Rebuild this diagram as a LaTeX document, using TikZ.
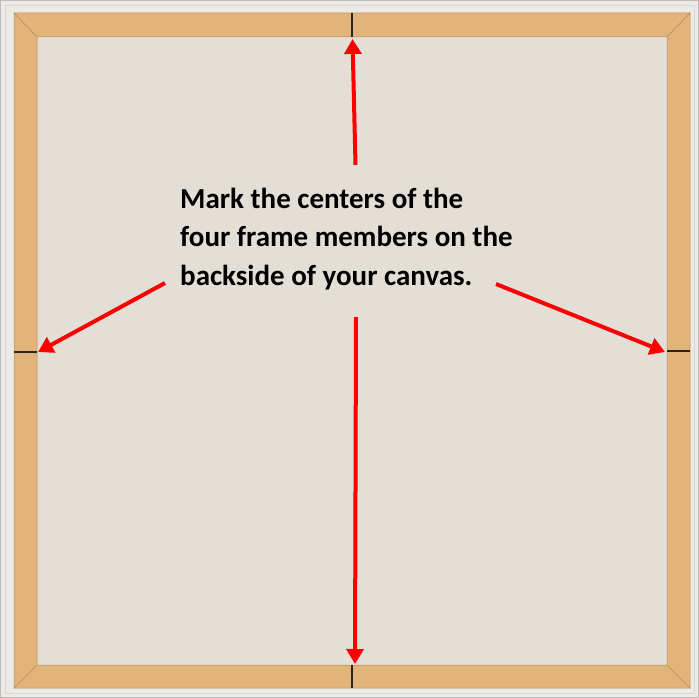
\documentclass[tikz,border=0pt]{standalone}
\usepackage{fontspec}
\setmainfont{Carlito}
\usetikzlibrary{arrows.meta}
\definecolor{outerbg}{RGB}{236,234,229}
\definecolor{fabric}{RGB}{227,223,214}
\definecolor{wood}{RGB}{226,180,122}
\definecolor{woodedge}{RGB}{185,140,90}
\definecolor{edgegray}{RGB}{190,188,184}
\definecolor{arrowred}{RGB}{255,0,0}
\tikzset{
  woodpiece/.style={fill=wood, draw=woodedge, line width=0.5pt, line join=miter},
  centermark/.style={draw=black!85, line width=1.6pt},
  redarrow/.style={draw=arrowred, line width=4pt, -{Triangle[width=17pt,length=15pt]}},
  label/.style={font=\bfseries\fontsize{29}{38.5}\selectfont, align=left, inner sep=0pt, text=black}
}
\begin{document}
\begin{tikzpicture}[x=1pt,y=-1pt]
\useasboundingbox (0,0) rectangle (699,698);
% background
\fill[outerbg] (0,0) rectangle (699,698);
\draw[edgegray, line width=1pt] (0.5,0.5) rectangle (698.5,697.5);
\draw[edgegray!60, line width=0.8pt] (5,5) rectangle (694,693);
% fabric
\fill[fabric] (37,37) rectangle (667,665);
% frame pieces
\path[woodpiece] (14,13) -- (690,13) -- (667,37) -- (37,37) -- cycle;
\path[woodpiece] (14,688) -- (690,688) -- (667,665) -- (37,665) -- cycle;
\path[woodpiece] (14,13) -- (37,37) -- (37,665) -- (14,688) -- cycle;
\path[woodpiece] (690,13) -- (667,37) -- (667,665) -- (690,688) -- cycle;
% center marks
\draw[centermark] (352,13) -- (352,37);
\draw[centermark] (352,665) -- (352,688);
\draw[centermark] (14,352) -- (37,352);
\draw[centermark] (667,351) -- (690,351);
% text
\node[label, anchor=base west] (txt) at (180,285) {Mark the centers of the\\four frame members on the\\backside of your canvas.};
% arrow coordinates
\coordinate (sTop) at (355.5,165);
\coordinate (tTop) at (352.5,39);
\coordinate (sBot) at (356,317);
\coordinate (tBot) at (355,664);
\coordinate (sLeft) at (165,283);
\coordinate (tLeft) at (38,352);
\coordinate (sRight) at (496,284);
\coordinate (tRight) at (665,352);
\draw[redarrow] (sTop) -- (tTop);
\draw[redarrow] (sBot) -- (tBot);
\draw[redarrow] (sLeft) -- (tLeft);
\draw[redarrow] (sRight) -- (tRight);
\end{tikzpicture}
\end{document}
